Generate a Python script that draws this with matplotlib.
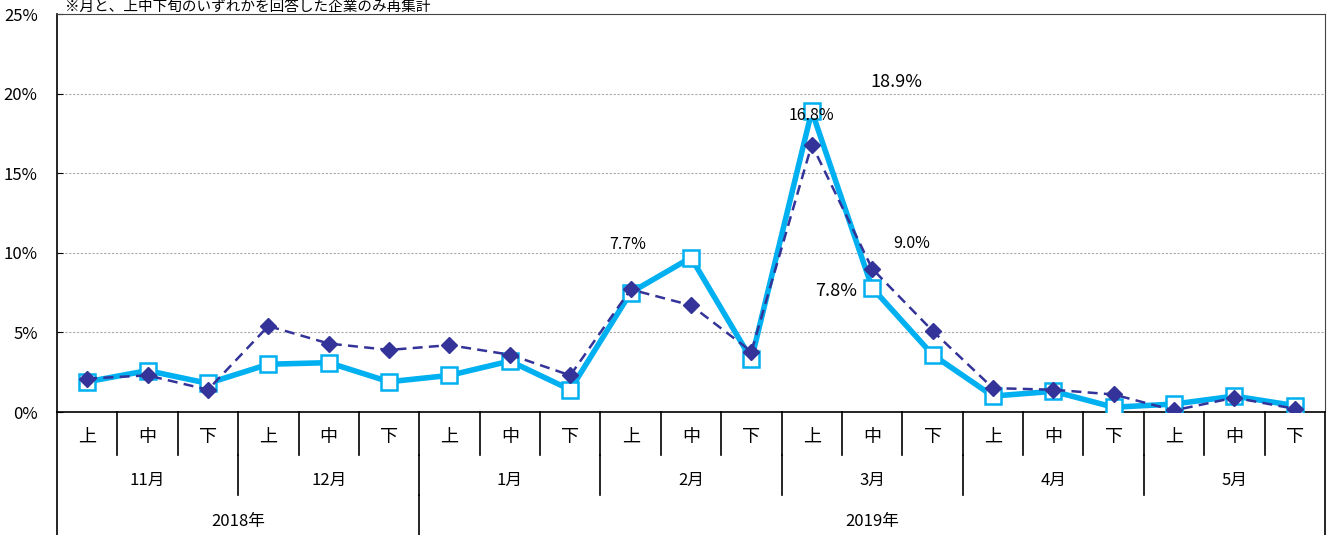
import matplotlib.pyplot as plt
import matplotlib.transforms as mtransforms
from matplotlib.ticker import FuncFormatter

plt.rcParams['font.family'] = ['Noto Sans CJK JP', 'DejaVu Sans']

# data (%)
periods = ["上", "中", "下"] * 7
months = ["11月", "12月", "1月", "2月", "3月", "4月", "5月"]
years = ["2018年", "2019年"]
year_months = [2, 5]  # number of months in each year
series_a = [1.9, 2.6, 1.8, 3.0, 3.1, 1.9, 2.3, 3.2, 1.4, 7.5, 9.7, 3.3,
            18.9, 7.8, 3.6, 1.0, 1.3, 0.3, 0.5, 1.0, 0.4]
series_b = [2.1, 2.3, 1.4, 5.4, 4.3, 3.9, 4.2, 3.6, 2.3, 7.7, 6.7, 3.8,
            16.8, 9.0, 5.1, 1.5, 1.4, 1.1, 0.1, 0.9, 0.2]
labels = [(12, 18.9, "18.9%"), (12, 16.8, "16.8%"), (9, 7.7, "7.7%"),
          (13, 9.0, "9.0%"), (13, 7.8, "7.8%")]

fig = plt.figure(figsize=(13.29, 5.35), dpi=100)
ax = fig.add_axes([0.0429, 0.2299, 0.9541, 0.7439])

x = list(range(len(series_a)))
ax.plot(x, series_a, color="#00B0F0", lw=4, marker="s", ms=11,
        mfc="white", mec="#00B0F0", mew=1.8, zorder=3)
ax.plot(x, series_b, color="#333399", lw=1.8, ls=(0, (4, 2.5)), marker="D",
        ms=8, mfc="#333399", mec="#333399", zorder=4)

ax.set_xlim(-0.5, len(x) - 0.5)
ax.set_ylim(0, 25)
ax.set_yticks([0, 5, 10, 15, 20, 25])
ax.yaxis.set_major_formatter(FuncFormatter(lambda v, p: f"{v:.0f}%"))
ax.tick_params(axis="y", direction="in", length=4, labelsize=12, pad=14)
ax.set_xticks([])
for v in [5, 10, 15, 20]:
    ax.axhline(v, color="#AAAAAA", lw=0.8, ls=(0, (2, 1.5)), zorder=1)

for s in ["top", "right"]:
    ax.spines[s].set_color("#444444")
ax.spines["left"].set_linewidth(1.2)
ax.spines["bottom"].set_linewidth(1.2)

# data labels
offs = {"18.9%": (1.4, 1.8, 13), "16.8%": (0, 1.85, 11.5), "7.7%": (-0.05, 2.85, 11.5),
        "9.0%": (0.65, 1.6, 11.5), "7.8%": (-0.6, -0.2, 13)}
for i, v, t in labels:
    dx, dy, fs = offs[t]
    ax.text(i + dx, v + dy, t, ha="center", va="center", fontsize=fs, zorder=5)

# multi-level category axis
tr = mtransforms.blended_transform_factory(ax.transData, ax.transAxes)
lk = dict(transform=tr, clip_on=False, color="black", lw=1.2)
for i, p in enumerate(periods):
    ax.text(i, -0.063, p, transform=tr, ha="center", va="center", fontsize=13)
for b in range(1, len(x)):
    ax.plot([b - 0.5, b - 0.5], [0, -0.108], **lk)
for m, name in enumerate(months):
    ax.text(3 * m + 1, -0.171, name, transform=tr, ha="center", va="center",
            fontsize=12)
    if m > 0:
        ax.plot([3 * m - 0.5, 3 * m - 0.5], [-0.108, -0.209], **lk)
start = 0
for y, n in zip(years, year_months):
    ax.text(start + 3 * n / 2 - 0.5, -0.276, y, transform=tr, ha="center",
            va="center", fontsize=12)
    if start > 0:
        ax.plot([start - 0.5, start - 0.5], [-0.209, -0.31], **lk)
    start += 3 * n
ax.plot([-0.5, -0.5], [0, -0.31], **lk)
ax.plot([len(x) - 0.5, len(x) - 0.5], [0, -0.31], **lk)

fig.text(0.049, 0.987, "※月と、上中下旬のいずれかを回答した企業のみ再集計",
         ha="left", va="center", fontsize=10.5)

fig.savefig("out.png", dpi=100)
